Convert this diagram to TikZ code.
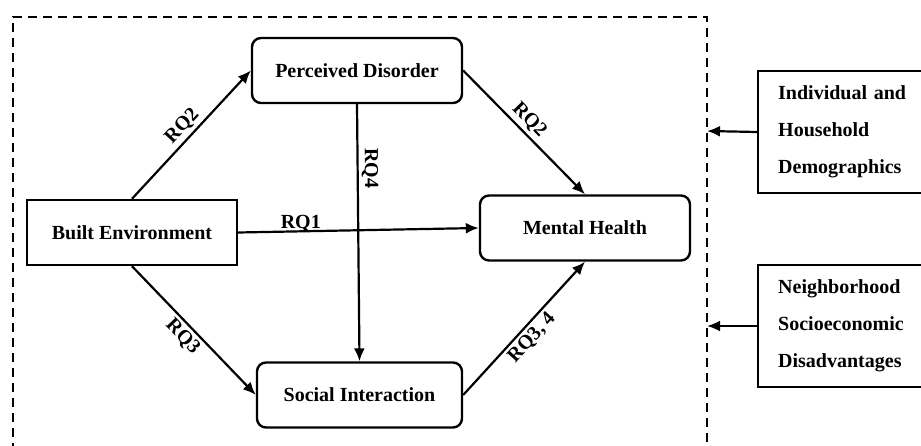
\documentclass[tikz,border=0pt]{standalone}
\usepackage{fontspec}
\setmainfont{Liberation Serif}
\usetikzlibrary{arrows.meta}

\begin{document}
\begin{tikzpicture}[x=1pt,y=-1pt,
  every node/.style={font=\bfseries\fontsize{20}{24}\selectfont},
  var/.style={draw,line width=2.4pt,minimum width=210pt,minimum height=65pt,inner sep=0pt},
  roundvar/.style={var,rounded corners=9pt},
  ctrl/.style={draw,line width=2.4pt,anchor=west,minimum height=122pt,minimum width=230pt,text width=190pt,inner xsep=20pt,align=left,font=\bfseries\fontsize{20}{37}\selectfont},
  arr/.style={line width=2.2pt,-{Latex[length=13pt,width=11pt]}},
  rq/.style={sloped,inner sep=3pt}]

\useasboundingbox (0,0) rectangle (921,446);

% study area
\draw[line width=2.2pt,dash pattern=on 9pt off 6pt] (13,452) -- (13,17) -- (707,17) -- (707,452);
\coordinate (c1) at (707,131);
\coordinate (c2) at (707,326);

% variables
\node[var] (built) at (132,232.5) {Built Environment};
\node[roundvar] (disorder) at (357,70.5) {Perceived Disorder};
\node[roundvar,minimum width=205pt] (social) at (359.5,395) {Social Interaction};
\node[roundvar] (mental) at (585,228) {Mental Health};

% controls
\node[ctrl] (indiv) at (757,132) {Individual and\\Household\\Demographics};
\node[ctrl] (neigh) at (757,326) {Neighborhood\\Socioeconomic\\Disadvantages};

% paths
\draw[arr] (built.north) -- (disorder.west) node[rq,above,pos=0.5]{RQ2};
\draw[arr] (disorder.east) -- (mental.north) node[rq,above,pos=0.47]{RQ2};
\draw[arr] (built.east) -- (mental.west) node[above=-2pt,pos=0.26,inner sep=0pt]{RQ1};
\draw[arr] (disorder.south) -- (social.north) node[rq,above,pos=0.25]{RQ4};
\draw[arr] (built.south) -- (social.west) node[rq,below,pos=0.48]{RQ3};
\draw[arr] (social.east) -- (mental.south) node[rq,below,pos=0.49]{RQ3, 4};

% controls to study area
\draw[arr] (indiv.west) -- (c1);
\draw[arr] (neigh.west) -- (c2);

\end{tikzpicture}
\end{document}
